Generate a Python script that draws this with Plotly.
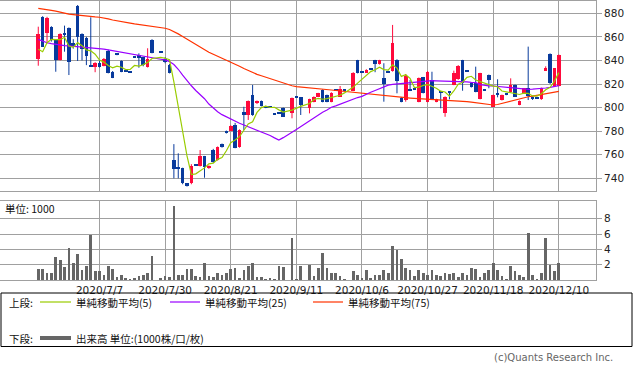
import plotly.graph_objects as go
import pandas as pd

# ---------------- data ----------------
trade_days = {
    "2020-06": [17, 18, 19, 22, 23, 24, 25, 26, 29, 30],
    "2020-07": [1, 2, 3, 6, 7, 8, 9, 10, 13, 14, 15, 16, 17, 20, 21, 22, 27, 28, 29, 30, 31],
    "2020-08": [3, 4, 5, 6, 7, 11, 12, 13, 14, 17, 18, 19, 20, 21, 24, 25, 26, 27, 28, 31],
    "2020-09": [1, 2, 3, 4, 7, 8, 9, 10, 11, 14, 15, 16, 17, 18, 23, 24, 25, 28, 29, 30],
    "2020-10": [1, 2, 5, 6, 7, 8, 9, 12, 13, 14, 15, 16, 19, 20, 21, 22, 23, 26, 27, 28, 29, 30],
    "2020-11": [2, 4, 5, 6, 9, 10, 11, 12, 13, 16, 17, 18, 19, 20, 24, 25, 26, 27, 30],
    "2020-12": [1, 2, 3, 4, 7, 8, 9, 10],
}
dates = [f"{m}-{d:02d}" for m, days in trade_days.items() for d in days]

tick_dates = ["2020-07-07", "2020-07-30", "2020-08-21", "2020-09-11",
              "2020-10-06", "2020-10-27", "2020-11-18", "2020-12-10"]
tick_text = ["2020/7/7", "2020/7/30", "2020/8/21", "2020/9/11",
             "2020/10/6", "2020/10/27", "2020/11/18", "2020/12/10"]

N = None
opens = [841, 877, 863.5, 868.6, 857.3, 840.3, 862.5, 867.5, 855, 886.2,
         862.2, 859.3, 836.5, 834.7, 838, 835.5, 848.3, 830.4, 844.8, 839.5,
         831.2, 830.2, 842.9, 844.6, 842.7, 834.7, 857.3, N, 847.2, 841.5,
         836.1, 755.5, 749, 748.5, 735.7, 735.7, 751.2, 750.6, 758.9, 748.5,
         764, 755.5, 769, 780, 780.1, 785.2, 766.8, 796.5, 793.7, 810.7,
         803.6, 805.6, 801, 800.2, 794.7, 794.9, 799.4, N, 795.1, 808.6,
         808.7, N, 799.4, 805, 809.2, 814.9, 810.7, 805, 814.5, 809.2,
         815.1, N, 814.3, 840.4, 829.8, 829.6, 832.2, 840.4, 837, 825.3,
         829.8, 831.3, 840.4, 808.4, 806.4, 815, 815.7, 805, 825.7, 805,
         823.4, 805, 813.5, 795.1, 812.8, 819.2, 824, 840.4, 830.6, 820.6,
         820.6, 807.3, 814.5, 827.6, 800.7, 812, 806.4, 810.9, 813.5, 819.2,
         802.2, 812.1, 816.4, 808.2, 808.2, 807, 831.3, 845.5, 818.3, 818.3]
highs = [868.6, 877.5, 877, 869, 858, 863, 869.5, 868, 858, 887,
         863, 860, 876.6, 838.5, 840, 842, 849, 831, 845, 840,
         831.5, 830.5, 843, 846, 843, 850.3, 858, N, 847.5, 842.7,
         837, 769, 761.2, 749, 736, 752, 751.5, 764, 759, 751,
         765, 767, 769.5, 780.5, 785, 787, 781.5, 800.7, 806, 819.2,
         806, 806, 801.5, 800.5, 795, 795.2, 800, N, 808.5, 808.9,
         809, N, 807.5, 809.5, 812.5, 815.5, 811, 813, 814.8, 818.3,
         815.4, N, 830, 840.5, 830, 832.5, 832.5, 840.5, 840.5, 837.6,
         830, 870.1, 841, 809, 828.5, 823.4, 816, 825.5, 826, 831,
         830.4, 807.5, 813.8, 809.5, 813, 831.3, 836, 840.5, 830.9, 821,
         834.7, 829.5, 814.8, 828, 811, 824, 811, 811.2, 824.8, 819.5,
         806, 816.5, 851.7, 809.5, 808.5, 817, 835, 846, 833.5, 845]
lows = [835.5, 851.5, 854.5, 856, 830.4, 840, 847.4, 827.6, 850, 839.5,
        840, 836, 834.7, 830, 834, 835, 829, 825, 844.4, 830,
        830.8, 829.8, 842.5, 833.8, 835, 834, 846, N, 846.8, 837.6,
        829, 740, 740, 735, 733, 735, 750.8, 750, 740.5, 748,
        753, 755, 766, 778, 780, 765.5, 766, 781, 789.5, 793,
        803, 801, 799.5, 799.8, 794.3, 794.5, 792, N, 790.9, 808.2,
        793.7, N, 795.1, 804.5, 809, 804.5, 804.5, 804.5, 814.1, 809,
        814.7, N, 814, 829, 829.4, 829.5, 831.8, 830, 836.5, 805,
        829.4, 830.5, 812.1, 804.5, 805, 814, 815, 804.5, 812, 804.5,
        806.5, 804.5, 799.4, 792.2, 807, 819, 823.5, 814.3, 830.2, 817,
        813, 807, 814.1, 816.4, 800.5, 808.7, 806, 810.5, 813, 809,
        802, 812, 806.4, 806.5, 807.8, 806.5, 831, 820, 818, 818]
closes = [862.4, 851.7, 876.3, 857.3, 840.3, 862.4, 862, 838.9, 852, 860.1,
          849.5, 844, 835, 838, 834.7, 841.2, 829.6, 825.4, 844.6, 830.4,
          831, 830, 842.7, 841.8, 836.1, 841, 846.6, N, 847, 838.5,
          829.6, 747.8, 748, 735.7, 733.7, 750.6, 751, 759.1, 749.8, 750.6,
          754, 766.8, 766.8, 778.7, 784.4, 766, 781, 793.7, 805.6, 793.7,
          805.6, 801.3, 799.7, 800, 794.5, 794.7, 792.2, N, 807.9, 808.4,
          802, N, 807, 809.2, 812.1, 805, 805, 812.6, 814.3, 815.5,
          814.9, N, 829.6, 829.6, 829.6, 831.9, 832, 837, 840.4, 819.7,
          829.6, 855, 822.8, 805, 826.8, 814.3, 815.5, 824.8, 812.6, 830.4,
          807, 807, 812.6, 809.2, 812.6, 829, 835.5, 820.6, 830.4, 817.2,
          813.5, 829, 814.3, 823.4, 810.7, 811, 810.7, 810.7, 819.2, 809.2,
          805.8, 816.4, 810, 808, 808, 816.4, 833.3, 820.6, 833.3, 844.6]

volume = [1.39, 1.39, 0.82, 0.82, 2.92, 2.57, 1.61, 4.09, 2.13, 3.31,
          1.26, 1.74, 5.79, 1.08, 1.08, 0.56, 1.74, 1.39, 0.30, 0.56,
          0.17, 0.05, 0.17, 0.43, 0.56, 0.91, 3.05, 0, 0.10, 0.43,
          0.30, 9.58, 0.56, 0.56, 1.39, 1.39, 0.43, 0.30, 2.13, 0.43,
          0.30, 0.82, 0.56, 0.82, 1.39, 1.48, 0.17, 1.26, 1.74, 2.13,
          0.30, 0.30, 0.05, 0.17, 0.05, 1.74, 1.61, 0, 5.40, 0.05,
          1.74, 0, 1.87, 0.43, 1.48, 3.44, 1.48, 0.82, 0.91, 0.43,
          0.05, 0, 1.08, 0.56, 0.17, 1.22, 0.17, 0.56, 0.65, 1.30,
          0.82, 4.35, 3.92, 2.65, 1.48, 1.26, 0.43, 1.30, 0.82, 0.56,
          1.26, 0.56, 0.43, 0.82, 0.74, 0.82, 0.30, 0.82, 0.56, 1.48,
          1.39, 0.30, 0.82, 1.30, 2.13, 1.30, 0.43, 0.05, 1.74, 1.08,
          0.56, 0.30, 6.05, 0.56, 0.05, 0.82, 5.40, 1.87, 1.08, 2.13]

# MA5 first four points (window needs earlier history)
ma5_head = [849.4, 847.4, 855.0, 857.9]

ma25 = [857.9, 856.3, 855.0, 854.2, 853.5, 853.0, 852.6, 852.3, 852.0, 851.8,
        851.6, 851.3, 851.0, 850.6, 850.3, 849.6, 848.9, 848.2, 847.6, 847.0,
        846.4, 845.8, 845.0, 844.1, 843.2, 842.6, 842.0, 841.5, 841.0, 840.4,
        839.0, 836.5, 832.5, 827.5, 822.5, 818.5, 814.5, 811.0, 807.5, 803.0,
        799.5, 796.5, 794.0, 792.0, 790.5, 788.5, 786.7, 785.2, 783.8, 782.4,
        781.0, 779.6, 778.2, 776.3, 774.3, 772.5, 774.5, 776.5, 779.0, 781.5,
        784.0, 786.5, 789.2, 791.7, 794.0, 796.0, 798.0, 800.3, 801.5, 803.0,
        804.5, 806.0, 807.2, 808.5, 809.5, 811.5, 813.0, 814.5, 816.0, 817.5,
        819.0, 819.6, 820.0, 820.3, 820.5, 820.7, 821.2, 821.8, 822.3, 822.8,
        822.8, 822.7, 822.6, 822.6, 822.5, 822.5, 822.5, 822.2, 821.8, 821.4,
        821.1, 819.5, 818.8, 818.4, 818.3, 818.0, 817.6, 817.3, 817.1, 816.6,
        816.1, 815.6, 815.5, 815.7, 815.9, 816.3, 816.6, 817.2, 818.0, 818.6]

ma75 = [884.2, 883.8, 883.3, 882.5, 881.8, 880.8, 879.8, 879.2, 878.8, 878.3,
        877.9, 877.5, 877.2, 876.9, 876.6, 876.2, 875.2, 874.3, 873.5, 872.9,
        872.3, 871.7, 871.0, 870.5, 870.0, 869.5, 869.0, 868.5, 868.0, 867.3,
        866.2, 864.5, 862.5, 860.3, 858.0, 855.8, 853.5, 851.2, 849.0, 847.0,
        845.2, 843.5, 842.0, 840.4, 838.9, 837.0, 835.0, 833.1, 831.3, 829.5,
        828.2, 827.0, 825.8, 824.6, 823.3, 821.8, 820.6, 819.5, 818.5, 817.7,
        817.4, 817.2, 817.0, 816.6, 816.3, 815.8, 815.3, 814.9, 814.5, 814.1,
        813.7, 813.4, 813.0, 812.5, 812.1, 811.6, 811.2, 810.7, 810.2, 809.8,
        809.5, 809.2, 809.0, 808.7, 808.4, 808.1, 807.9, 807.7, 807.5, 807.3,
        807.1, 806.8, 806.6, 806.3, 806.1, 805.8, 805.5, 805.3, 805.0, 804.6,
        804.1, 803.6, 803.1, 802.6, 802.2, 802.6, 803.5, 804.6, 805.8, 806.8,
        807.6, 808.4, 809.2, 809.7, 810.3, 810.9, 811.6, 812.3, 813.0, 813.8]

# ---------------- styling ----------------
RED = "#FF0A3C"
BLUE = "#083A9C"
C_MA5 = "#99CC00"
C_MA25 = "#9900FF"
C_MA75 = "#FF3300"
VOLC = "#666666"
GRID = "#A0A0A0"
NUMFONT = "DejaVu Sans"
JPFONT = "Noto Sans CJK JP"

xs = list(range(len(dates)))
tickvals = [dates.index(d) for d in tick_dates]

# MA5 from closes (over traded days)
cs = pd.Series(closes, index=xs, dtype="float")
ma5_s = cs.dropna().rolling(5).mean().reindex(xs)
ma5 = [ma5_head[i] if i < len(ma5_head) else ma5_s[i] for i in xs]

# candle geometry from OHLC
body_x, body_base, body_h, body_col = [], [], [], []
wick = {RED: ([], []), BLUE: ([], [])}
for i, o, h, l, c in zip(xs, opens, highs, lows, closes):
    if o is None:
        continue
    col = RED if c > o else BLUE
    lo, hi = min(o, c), max(o, c)
    body_x.append(i)
    body_base.append(lo)
    body_h.append(max(hi - lo, 0.9))
    body_col.append(col)
    wick[col][0].extend([i, i, None])
    wick[col][1].extend([l, h, None])

fig = go.Figure()
for col, (wx, wy) in wick.items():
    fig.add_trace(go.Scatter(x=wx, y=wy, mode="lines", line=dict(color=col, width=1),
                             hoverinfo="skip", showlegend=False, xaxis="x2", yaxis="y2"))
fig.add_trace(go.Bar(x=body_x, y=body_h, base=body_base, width=0.82,
                     marker=dict(color=body_col, line=dict(width=0)),
                     showlegend=False, xaxis="x2", yaxis="y2"))
for ma, col in [(ma75, C_MA75), (ma25, C_MA25), (ma5, C_MA5)]:
    fig.add_trace(go.Scatter(x=xs, y=ma, mode="lines", line=dict(color=col, width=1.2),
                             connectgaps=True, showlegend=False, xaxis="x2", yaxis="y2"))

fig.add_trace(go.Bar(x=xs, y=volume, width=0.62, marker=dict(color=VOLC, line=dict(width=0)),
                     showlegend=False, xaxis="x", yaxis="y"))

W, H = 633, 373
L, R, T, B = 0, 37, 1, 93
PW, PH = W - L - R, H - T - B
bottom_px = T + PH


def py(ypx):
    return (bottom_px - ypx) / PH


def px(xpx):
    return (xpx - L) / PW


xr = [-8.75, 127.5]
axis_common = dict(showgrid=True, gridcolor=GRID, gridwidth=1, showline=True, linecolor=GRID,
                   linewidth=1, mirror=True, zeroline=False)

fig.update_layout(
    width=W, height=H, margin=dict(l=L, r=R, t=T, b=B),
    paper_bgcolor="white", plot_bgcolor="white", barmode="overlay", bargap=0,
    xaxis=dict(domain=[0, 1], range=xr, tickvals=tickvals, ticktext=tick_text,
               ticks="", tickfont=dict(family=NUMFONT, size=10.5, color="#222"),
               anchor="y", **axis_common),
    yaxis=dict(domain=[0, py(201.3)], range=[0, 10.29], tickvals=[2, 4, 6, 8], side="right",
               ticks="outside", ticklen=5, tickcolor=GRID,
               tickfont=dict(family=NUMFONT, size=10.5, color="#222"), anchor="x", **axis_common),
    xaxis2=dict(domain=[0, 1], range=xr, tickvals=tickvals, showticklabels=False, ticks="",
                anchor="y2", matches="x", **axis_common),
    yaxis2=dict(domain=[py(190.7), 1], range=[729.5, 890.4], tickvals=list(range(740, 881, 20)),
                side="right", ticks="outside", ticklen=5, tickcolor=GRID,
                tickfont=dict(family=NUMFONT, size=10.5, color="#222"), anchor="x2", **axis_common),
    font=dict(family=JPFONT),
)

ann = []


def text(x, y, s, size=10.5, color="#111", anchor="left", family=JPFONT):
    ann.append(dict(x=px(x), y=py(y), xref="paper", yref="paper", text=s, showarrow=False,
                    xanchor=anchor, yanchor="middle", font=dict(family=family, size=size, color=color)))


text(3, 209, "単位: 1000", size=10.5)
text(7, 302, "上段:")
text(7, 338, "下段:")
text(74, 302, "単純移動平均(5)")
text(203, 302, "単純移動平均(25)")
text(346, 302, "単純移動平均(75)")
text(74, 338, "出来高 単位:(1000株/口/枚)")
text(615, 357, "(c)Quants Research Inc.", size=10, color="#666", anchor="right", family=NUMFONT)

shapes = [dict(type="rect", xref="paper", yref="paper", x0=px(1), x1=px(632), y0=py(293), y1=py(346.5),
               line=dict(color="#000", width=1), fillcolor="rgba(0,0,0,0)")]
for x0, x1, col in [(40, 71, C_MA5), (170, 200, C_MA25), (313, 343, C_MA75)]:
    shapes.append(dict(type="line", xref="paper", yref="paper", x0=px(x0), x1=px(x1), y0=py(302), y1=py(302),
                       line=dict(color=col, width=1.2)))
shapes.append(dict(type="line", xref="paper", yref="paper", x0=px(40), x1=px(71), y0=py(338), y1=py(338),
                   line=dict(color=VOLC, width=4)))

fig.update_layout(annotations=ann, shapes=shapes)
fig.write_html("out.html", config={"displayModeBar": False},
               post_script="document.body.style.margin='0';document.body.style.padding='0';")
